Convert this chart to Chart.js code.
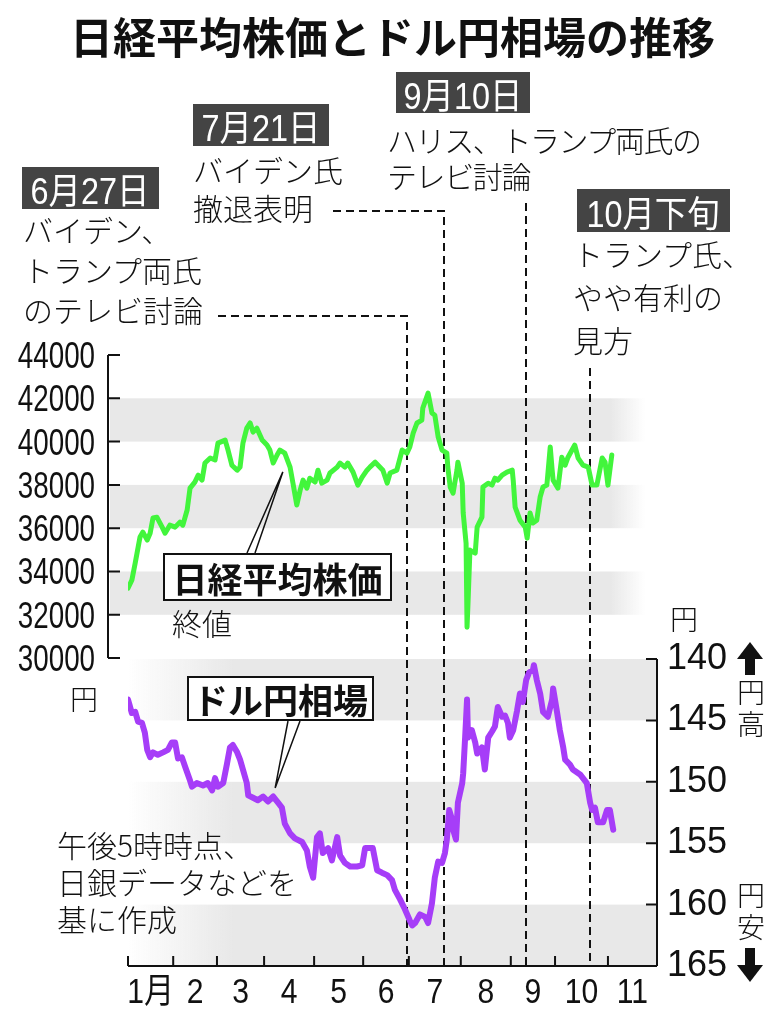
<!DOCTYPE html>
<html lang="ja">
<head>
<meta charset="utf-8">
<title>日経平均株価とドル円相場の推移</title>
<script src="https://cdn.jsdelivr.net/npm/chart.js@4.4.1/dist/chart.umd.min.js"></script>
<style>
  html, body { margin: 0; padding: 0; background: #fff; }
  #wrap { position: relative; width: 776px; height: 1024px; overflow: hidden; font-family: "Noto Sans CJK JP", sans-serif; color: #111; }
  #chart { position: absolute; left: 0; top: 0; }
  .t { position: absolute; white-space: nowrap; font-weight: 300; font-size: 30px; line-height: 30px; }
  .date { position: absolute; background: #444; color: #fff; font-family: "Liberation Sans", "Noto Sans CJK JP", sans-serif; font-size: 36px; display: flex; align-items: center; justify-content: center; }
  .date span { display: inline-block; transform: scaleX(0.9); }
  .tag { position: absolute; box-sizing: border-box; border: 2px solid #111; background: #fff; font-weight: 700; font-size: 35px; display: flex; align-items: center; justify-content: center; }
  #title { position: absolute; left: 70px; top: 14px; font-size: 43px; line-height: 43px; font-weight: 700; white-space: nowrap; }
</style>
</head>
<body>
<div id="wrap">
  <canvas id="chart" width="776" height="1024"></canvas>

  <div id="title">日経平均株価とドル円相場の推移</div>

  <div class="date" style="left:22px;top:167px;width:137px;height:42px;"><span>6月27日</span></div>
  <div class="t" style="left:23px;top:209px;line-height:40px;">バイデン、<br>トランプ両氏<br>のテレビ討論</div>

  <div class="date" style="left:193px;top:104px;width:136px;height:42px;"><span>7月21日</span></div>
  <div class="t" style="left:193px;top:150px;line-height:38px;">バイデン氏<br>撤退表明</div>

  <div class="date" style="left:396px;top:72px;width:134px;height:41px;"><span>9月10日</span></div>
  <div class="t" style="left:387px;top:121px;line-height:36px;letter-spacing:-1.4px;">ハリス、トランプ両氏の<br>テレビ討論</div>

  <div class="date" style="left:577px;top:189px;width:153px;height:43px;"><span>10月下旬</span></div>
  <div class="t" style="left:573px;top:232px;line-height:43px;">トランプ氏、<br>やや有利の<br>見方</div>

  <div class="tag" style="left:163px;top:553px;width:229px;height:48px;">日経平均株価</div>
  <div class="t" style="left:172px;top:607px;">終値</div>

  <div class="tag" style="left:187px;top:676px;width:187px;height:45px;">ドル円相場</div>
  <div class="t" style="left:70px;top:684px;font-size:28px;line-height:28px;">円</div>
  <div class="t" style="left:670px;top:604px;font-size:28px;line-height:28px;">円</div>
  <div class="t" style="left:737px;top:675px;font-size:28px;line-height:32px;">円<br>高</div>
  <div class="t" style="left:737px;top:878px;font-size:28px;line-height:32px;">円<br>安</div>

  <div class="t" style="left:57px;top:826px;line-height:37px;">午後5時時点、<br>日銀データなどを<br>基に作成</div>
</div>

<script>
// month units: 0 = start of January, tick positions
const monthStarts = [0, 0.94, 1.85, 2.83, 3.87, 4.89, 5.84, 6.92, 7.96, 8.88, 9.98, 11];
const monthLabels = ["1月", "2", "3", "4", "5", "6", "7", "8", "9", "10", "11"];

const nikkeiTicks = [30000, 32000, 34000, 36000, 38000, 40000, 42000, 44000];
const nikkeiBands = [[40000, 42000], [36000, 38000], [32000, 34000]];
const usdTicks = [140, 145, 150, 155, 160, 165];
const usdBands = [[140, 145], [150, 155], [160, 165]];

// Nikkei closing prices
const nikkeiX = [0.00,0.08,0.15,0.25,0.31,0.40,0.46,0.52,0.60,0.71,0.77,0.87,0.98,1.08,1.14,1.23,1.29,1.39,1.46,1.54,1.60,1.71,1.81,1.87,2.02,2.08,2.16,2.27,2.33,2.39,2.47,2.54,2.60,2.68,2.79,2.89,2.95,3.02,3.10,3.16,3.26,3.37,3.43,3.51,3.58,3.64,3.72,3.78,3.89,3.95,4.03,4.14,4.20,4.35,4.41,4.51,4.57,4.68,4.78,4.87,4.97,5.03,5.14,5.24,5.30,5.39,5.45,5.59,5.70,5.80,5.86,5.93,6.01,6.11,6.13,6.24,6.32,6.38,6.45,6.53,6.63,6.65,6.70,6.76,6.84,6.86,6.95,6.97,7.03,7.05,7.07,7.11,7.22,7.26,7.36,7.38,7.49,7.57,7.63,7.69,7.78,7.88,7.99,8.01,8.05,8.15,8.26,8.30,8.36,8.42,8.50,8.57,8.63,8.71,8.78,8.82,8.84,8.94,9.02,9.09,9.15,9.29,9.36,9.46,9.57,9.65,9.75,9.86,9.92,9.98,10.06];
const nikkeiY = [33230,33600,34390,35590,35820,35450,35770,36470,36510,36050,35770,36140,36050,36280,36140,36840,37850,38130,38450,38220,39010,39240,39150,39930,40070,39610,38910,38680,38820,39930,40620,40860,40440,40620,40070,39840,39610,39010,39380,39610,39470,38820,38080,37070,37760,38220,37850,38310,38130,38680,38080,38220,38550,38820,39010,38820,39010,38590,37990,38360,38680,38820,39050,38820,38680,38080,38550,38680,39610,39470,39750,40390,40860,40990,41550,42240,41320,41220,40210,39610,39470,38820,37900,37620,38680,39050,38080,36700,35310,31430,32540,34990,34850,36050,36510,37900,38080,37990,38310,38220,38450,38590,38680,38220,36970,36370,36050,35540,36700,36240,36370,37440,37900,37990,39750,38680,38220,37850,39280,38910,39280,39840,39240,38910,38820,37990,37990,39240,39050,37990,39380];

// dollar-yen, 5 pm
const usdX = [0.00,0.08,0.15,0.21,0.29,0.35,0.40,0.46,0.52,0.62,0.73,0.83,0.91,0.98,1.04,1.12,1.19,1.29,1.33,1.43,1.56,1.66,1.75,1.81,1.87,1.98,2.06,2.12,2.18,2.27,2.33,2.39,2.47,2.50,2.60,2.70,2.81,2.91,3.02,3.12,3.20,3.26,3.37,3.47,3.62,3.72,3.78,3.85,3.93,3.99,4.05,4.16,4.24,4.35,4.41,4.51,4.62,4.76,4.87,4.93,5.03,5.09,5.18,5.28,5.39,5.49,5.55,5.66,5.76,5.86,5.91,5.97,6.07,6.18,6.24,6.32,6.38,6.45,6.53,6.59,6.63,6.68,6.74,6.76,6.82,6.86,6.95,6.97,7.01,7.05,7.07,7.15,7.22,7.26,7.36,7.42,7.49,7.57,7.63,7.69,7.78,7.84,7.90,7.94,8.01,8.09,8.15,8.21,8.28,8.34,8.42,8.44,8.50,8.57,8.63,8.73,8.82,8.84,8.92,8.98,9.05,9.09,9.19,9.25,9.40,9.54,9.61,9.65,9.71,9.77,9.88,9.96,10.02,10.09];
const usdY = [143.3,144.4,144.3,145.1,145.2,146.0,147.4,148.0,147.6,147.8,147.6,147.4,146.8,146.8,148.1,148.0,148.8,149.9,150.4,150.1,150.3,150.1,150.7,149.7,150.4,150.1,148.5,147.2,147.0,147.6,148.2,149.0,150.1,151.1,151.3,151.5,151.2,151.6,151.2,151.7,152.1,153.4,154.2,154.6,154.9,155.6,156.9,157.8,154.5,154.2,155.8,155.4,156.4,154.5,156.0,156.6,156.9,156.9,156.8,155.4,155.4,155.4,157.2,157.4,157.6,158.0,158.8,159.6,160.4,161.3,161.7,161.5,160.8,161.0,161.5,159.9,157.8,156.5,156.6,155.8,154.7,152.3,153.1,153.9,154.7,151.7,150.1,149.3,146.4,143.3,146.4,145.8,146.8,147.7,147.2,149.0,146.4,145.9,145.5,143.9,144.7,144.6,145.2,146.4,145.8,144.2,142.8,143.5,141.7,141.1,140.9,140.5,141.7,142.8,144.3,144.7,143.3,142.4,144.3,145.8,147.2,148.2,148.6,149.0,149.4,150.1,151.7,152.3,152.1,153.3,153.3,152.3,152.3,153.9];

// event dates (month units) and where their dashed leader starts
const eventX = [5.80, 6.57, 8.28, 9.61];
const eventTop = [316, 211, 203, 368];
const eventFrom = [218, 333, null, null];

const monthMids = monthLabels.map((_, i) => (monthStarts[i] + monthStarts[i + 1]) / 2);

// draw text squeezed horizontally (the original uses a condensed face)
function narrowText(ctx, text, px, py, sx, align) {
    ctx.save();
    ctx.translate(px, py);
    ctx.scale(sx, 1);
    ctx.textAlign = align;
    ctx.fillText(text, 0, 0);
    ctx.restore();
}

const decor = {
    id: "decor",
    beforeDatasetsDraw(chart) {
        const { ctx, chartArea: a, scales } = chart;
        const x = scales.x, yN = scales.yN, yU = scales.yU;
        ctx.save();

        // upper bands fade out to the right
        const gTop = ctx.createLinearGradient(a.left - 18, 0, a.right - 12, 0);
        gTop.addColorStop(0, "#e8e8e8");
        gTop.addColorStop(0.935, "#e8e8e8");
        gTop.addColorStop(1, "rgba(232,232,232,0)");
        ctx.fillStyle = gTop;
        nikkeiBands.forEach(([lo, hi]) => {
            const y1 = yN.getPixelForValue(hi), y2 = yN.getPixelForValue(lo);
            ctx.fillRect(a.left - 18, y1, a.right - a.left + 6, y2 - y1);
        });

        // lower bands fade in from the left
        const gBot = ctx.createLinearGradient(a.left, 0, a.left + 105, 0);
        gBot.addColorStop(0, "rgba(232,232,232,0)");
        gBot.addColorStop(1, "#e8e8e8");
        ctx.fillStyle = gBot;
        usdBands.forEach(([lo, hi]) => {
            const y1 = yU.getPixelForValue(lo), y2 = yU.getPixelForValue(hi);
            ctx.fillRect(a.left, y1, a.right - a.left, y2 - y1);
        });

        // dashed event lines
        ctx.strokeStyle = "#111";
        ctx.lineWidth = 2;
        ctx.setLineDash([8, 5]);
        eventX.forEach((ev, i) => {
            const px = Math.round(x.getPixelForValue(ev));
            ctx.beginPath();
            if (eventFrom[i] !== null) {
                ctx.moveTo(eventFrom[i], eventTop[i]);
                ctx.lineTo(px, eventTop[i]);
            } else {
                ctx.moveTo(px, eventTop[i]);
            }
            ctx.lineTo(px, a.bottom);
            ctx.stroke();
        });
        ctx.setLineDash([]);
        ctx.restore();
    },
    afterDatasetsDraw(chart) {
        const { ctx, chartArea: a, scales } = chart;
        const x = scales.x, yN = scales.yN, yU = scales.yU;
        ctx.save();
        ctx.strokeStyle = "#111";
        ctx.fillStyle = "#111";
        ctx.lineWidth = 2;

        // Nikkei axis, set off to the left of the plot
        const ax = a.left - 20;
        ctx.beginPath();
        ctx.moveTo(ax, yN.getPixelForValue(44000));
        ctx.lineTo(ax, yN.getPixelForValue(30000));
        nikkeiTicks.forEach(v => {
            const py = yN.getPixelForValue(v);
            ctx.moveTo(ax, py);
            ctx.lineTo(ax + 12, py);
        });
        ctx.stroke();

        // Nikkei tick labels
        ctx.font = "37px 'Liberation Sans', sans-serif";
        ctx.textBaseline = "alphabetic";
        nikkeiTicks.forEach(v => {
            narrowText(ctx, String(v), ax - 13, yN.getPixelForValue(v) + 13, 0.75, "right");
        });

        // bottom axis with month ticks
        ctx.beginPath();
        ctx.moveTo(a.left, a.bottom);
        ctx.lineTo(a.right, a.bottom);
        monthStarts.forEach(m => {
            const px = x.getPixelForValue(m);
            ctx.moveTo(px, a.bottom);
            ctx.lineTo(px, a.bottom - 10);
        });
        // right yen axis
        ctx.moveTo(a.right, yU.getPixelForValue(140));
        ctx.lineTo(a.right, a.bottom);
        usdTicks.forEach(v => {
            const py = yU.getPixelForValue(v);
            ctx.moveTo(a.right, py);
            ctx.lineTo(a.right - 11, py);
        });
        ctx.stroke();

        // month labels
        ctx.font = "35px 'Liberation Sans', 'Noto Sans CJK JP', sans-serif";
        monthMids.forEach((m, i) => {
            narrowText(ctx, monthLabels[i], x.getPixelForValue(m), a.bottom + 37, 0.86, "center");
        });

        // callout pointers
        ctx.lineWidth = 1.5;
        const tipN = [x.getPixelForValue(3.22), yN.getPixelForValue(38600)];
        ctx.beginPath();
        ctx.moveTo(247, 553); ctx.lineTo(tipN[0], tipN[1]); ctx.lineTo(255, 553);
        const tipU = [x.getPixelForValue(3.06), yU.getPixelForValue(150.5)];
        ctx.moveTo(288, 721); ctx.lineTo(tipU[0], tipU[1]); ctx.lineTo(300, 721);
        ctx.stroke();

        // up / down arrows beside the yen axis
        const cx = a.right + 93;
        ctx.beginPath();
        ctx.moveTo(cx, 642); ctx.lineTo(cx - 13, 659); ctx.lineTo(cx + 13, 659); ctx.closePath();
        ctx.fill();
        ctx.fillRect(cx - 5, 658, 10, 17);
        ctx.beginPath();
        ctx.moveTo(cx, 982); ctx.lineTo(cx - 13, 965); ctx.lineTo(cx + 13, 965); ctx.closePath();
        ctx.fill();
        ctx.fillRect(cx - 5, 948, 10, 18);
        ctx.restore();
    }
};

new Chart(document.getElementById("chart"), {
    type: "line",
    data: {
        datasets: [
            {
                label: "日経平均株価",
                data: nikkeiX.map((v, i) => ({ x: v, y: nikkeiY[i] })),
                yAxisID: "yN",
                borderColor: "#42f53c",
                borderWidth: 5,
                pointRadius: 0,
                tension: 0,
                borderJoinStyle: "round",
                borderCapStyle: "round"
            },
            {
                label: "ドル円相場",
                data: usdX.map((v, i) => ({ x: v, y: usdY[i] })),
                yAxisID: "yU",
                borderColor: "#a63df8",
                borderWidth: 6,
                pointRadius: 0,
                tension: 0,
                borderJoinStyle: "round",
                borderCapStyle: "round"
            }
        ]
    },
    options: {
        responsive: false,
        animation: false,
        events: [],
        layout: { padding: { top: 355, left: 0, right: 0, bottom: 0 } },
        plugins: { legend: { display: false }, tooltip: { enabled: false } },
        scales: {
            x: {
                type: "linear",
                min: 0,
                max: 11,
                afterBuildTicks: s => { s.ticks = monthMids.map(v => ({ value: v })); },
                afterFit: s => { s.height = 58; },
                grid: { display: false, drawTicks: false },
                border: { display: false },
                ticks: { display: false }
            },
            yN: {
                type: "linear",
                position: "left",
                min: 15778,
                max: 44000,
                afterBuildTicks: s => { s.ticks = nikkeiTicks.map(v => ({ value: v })); },
                afterFit: s => { s.width = 128; },
                grid: { display: false, drawTicks: false },
                border: { display: false },
                ticks: { display: false }
            },
            yU: {
                type: "linear",
                position: "right",
                reverse: true,
                min: 115.24,
                max: 165,
                afterBuildTicks: s => { s.ticks = usdTicks.map(v => ({ value: v })); },
                afterFit: s => { s.width = 119; },
                grid: { display: false, drawTicks: false },
                border: { display: false },
                ticks: {
                    autoSkip: false,
                    padding: 10,
                    color: "#111",
                    font: { family: "'Liberation Sans', sans-serif", size: 36 },
                    callback: v => String(v)
                }
            }
        }
    },
    plugins: [decor]
});
</script>
</body>
</html>
